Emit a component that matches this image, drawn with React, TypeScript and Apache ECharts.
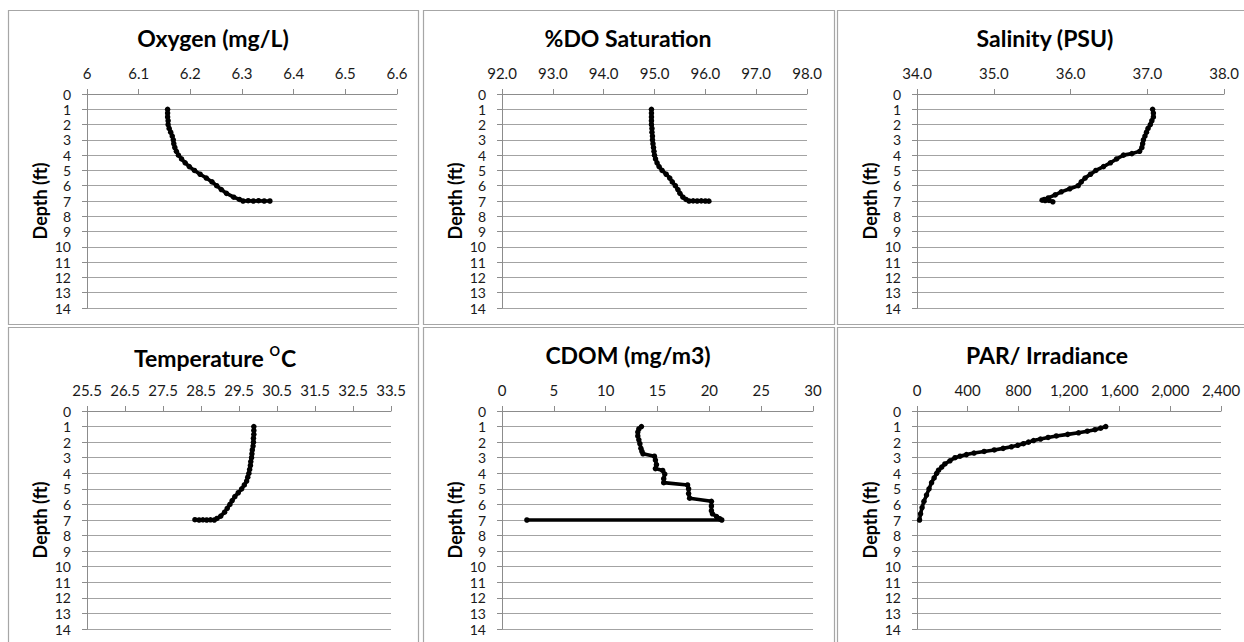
import React, { useEffect, useRef } from "react";
import * as echarts from "echarts";

// ---------- data ----------
const oxygenDepth = [1.0, 1.25, 1.5, 1.75, 2.0, 2.25, 2.5, 2.75, 3.0, 3.25, 3.5, 3.75, 4.0, 4.25, 4.5, 4.75, 5.0, 5.25, 5.5, 5.75, 6.0, 6.25, 6.5, 6.75, 6.9, 7.0, 6.98, 7.0, 6.98, 7.0, 7.0];
const oxygenValue = [6.156, 6.156, 6.156, 6.157, 6.157, 6.159, 6.162, 6.165, 6.167, 6.168, 6.17, 6.173, 6.177, 6.183, 6.19, 6.198, 6.208, 6.219, 6.231, 6.242, 6.251, 6.26, 6.27, 6.284, 6.295, 6.302, 6.312, 6.322, 6.332, 6.343, 6.354];

const doDepth = [1.0, 1.25, 1.5, 1.75, 2.0, 2.25, 2.5, 2.75, 3.0, 3.25, 3.5, 3.75, 4.0, 4.25, 4.5, 4.75, 5.0, 5.25, 5.5, 5.75, 6.0, 6.25, 6.5, 6.75, 6.9, 7.0, 6.99, 7.0, 6.99, 7.0, 7.01];
const doValue = [94.94, 94.94, 94.94, 94.94, 94.94, 94.95, 94.95, 94.96, 94.96, 94.97, 94.98, 94.99, 95.0, 95.02, 95.05, 95.09, 95.15, 95.23, 95.3, 95.35, 95.41, 95.46, 95.5, 95.56, 95.62, 95.68, 95.76, 95.84, 95.92, 96.0, 96.07];

const salinityDepth = [1.0, 1.25, 1.5, 1.75, 2.0, 2.25, 2.5, 2.75, 3.0, 3.25, 3.5, 3.75, 3.9, 4.0, 4.25, 4.5, 4.75, 5.0, 5.25, 5.5, 5.75, 6.0, 6.2, 6.4, 6.6, 6.8, 6.9, 6.95, 6.97, 6.96, 7.05];
const salinityValue = [37.07, 37.08, 37.08, 37.06, 37.04, 37.01, 36.99, 36.97, 36.95, 36.94, 36.93, 36.9, 36.8, 36.69, 36.6, 36.52, 36.43, 36.33, 36.26, 36.19, 36.14, 36.1, 35.99, 35.88, 35.8, 35.71, 35.66, 35.63, 35.67, 35.72, 35.77];

const temperatureDepth = [1.0, 1.25, 1.5, 1.75, 2.0, 2.25, 2.5, 2.75, 3.0, 3.25, 3.5, 3.75, 4.0, 4.25, 4.5, 4.75, 5.0, 5.25, 5.5, 5.75, 6.0, 6.25, 6.5, 6.75, 6.9, 7.0, 6.99, 7.0, 6.99, 7.0, 6.98];
const temperatureValue = [29.89, 29.89, 29.89, 29.88, 29.88, 29.87, 29.85, 29.84, 29.83, 29.81, 29.8, 29.78, 29.76, 29.73, 29.7, 29.64, 29.57, 29.48, 29.39, 29.32, 29.26, 29.19, 29.12, 29.02, 28.92, 28.85, 28.75, 28.65, 28.55, 28.45, 28.34];

const cdomDepth = [1.0, 1.15, 1.35, 1.6, 1.85, 2.1, 2.4, 2.6, 2.75, 2.9, 3.15, 3.45, 3.7, 3.82, 4.05, 4.35, 4.6, 4.75, 5.0, 5.3, 5.6, 5.8, 6.1, 6.4, 6.6, 6.78, 6.92, 7.0, 7.0];
const cdomValue = [13.45, 13.2, 13.1, 13.1, 13.2, 13.3, 13.4, 13.5, 13.6, 14.7, 14.8, 14.9, 14.8, 15.5, 15.7, 15.6, 15.6, 17.9, 18.0, 18.0, 18.1, 20.2, 20.2, 20.2, 20.3, 20.7, 21.0, 21.2, 2.4];

const parDepth = [1.0, 1.1, 1.2, 1.3, 1.4, 1.5, 1.6, 1.7, 1.8, 1.9, 2.0, 2.1, 2.2, 2.3, 2.4, 2.5, 2.6, 2.7, 2.8, 2.9, 3.0, 3.2, 3.4, 3.6, 3.8, 4.0, 4.3, 4.6, 5.0, 5.4, 5.8, 6.2, 6.6, 7.0];
const parValue = [1490, 1450, 1405, 1345, 1275, 1190, 1100, 1035, 975, 920, 880, 840, 795, 745, 680, 610, 530, 450, 390, 340, 300, 260, 220, 195, 170, 155, 135, 115, 95, 75, 55, 40, 28, 20];

const temperatureTicks = [25.5, 26.5, 27.5, 28.5, 29.5, 30.5, 31.5, 32.5, 33.5];

const panelTitles = ["Oxygen (mg/L)", "%DO Saturation", "Salinity (PSU)", "Temperature", "CDOM (mg/m3)", "PAR/ Irradiance"];

// ---------- layout / style ----------
const FONT = "Lato, 'Open Sans', sans-serif";
const GRID_COLOR = "#a3a3a3";
const AXIS_COLOR = "#8c8c8c";

const grids = [
  { left: 87, top: 94, width: 310, height: 214 },
  { left: 502, top: 94, width: 305, height: 214 },
  { left: 917, top: 94, width: 307, height: 214 },
  { left: 87, top: 411, width: 304, height: 218 },
  { left: 502, top: 411, width: 311, height: 218 },
  { left: 917, top: 411, width: 304, height: 218 },
];

const titlePos = [
  [213, 38], [628, 38], [1045, 38],
  [215, 355], [628, 355], [1047, 355],
];

const zip = (xs: number[], ys: number[]) => xs.map((x, i) => [x, ys[i]]);

export default function App() {
  const ref = useRef<HTMLDivElement>(null);

  useEffect(() => {
    if (!ref.current) return;
    const chart = echarts.init(ref.current, undefined, { renderer: "svg" });

    const fmt1 = (v: number) => v.toFixed(1);
    const fmtComma = (v: number) => v.toLocaleString("en-US");

    const xCfg: any[] = [
      { min: 6, max: 6.6, interval: 0.1 },
      { min: 92, max: 98, interval: 1, formatter: fmt1 },
      { min: 34, max: 38, interval: 1, formatter: fmt1 },
      { min: 25.5, max: 33.5, custom: temperatureTicks, formatter: fmt1 },
      { min: 0, max: 30, interval: 5 },
      { min: 0, max: 2400, interval: 400, formatter: fmtComma },
    ];

    const seriesData = [
      zip(oxygenValue, oxygenDepth),
      zip(doValue, doDepth),
      zip(salinityValue, salinityDepth),
      zip(temperatureValue, temperatureDepth),
      zip(cdomValue, cdomDepth),
      zip(parValue, parDepth),
    ];

    const xAxis = xCfg.map((c, i) => {
      const ax: any = {
        gridIndex: i,
        type: "value",
        position: "top",
        min: c.min,
        max: c.max,
        axisLine: { show: true, onZero: false, lineStyle: { color: AXIS_COLOR, width: 1 } },
        axisTick: { show: true, length: 5, lineStyle: { color: AXIS_COLOR } },
        axisLabel: {
          fontFamily: FONT,
          fontSize: 15,
          color: "#1a1a1a",
          margin: 14,
          formatter: c.formatter,
        },
        splitLine: { show: false },
      };
      if (c.interval !== undefined) ax.interval = c.interval;
      if (c.custom) {
        ax.axisLabel.customValues = c.custom;
        ax.axisTick.customValues = c.custom;
      }
      return ax;
    });

    const yAxis = grids.map((_, i) => ({
      gridIndex: i,
      type: "value",
      inverse: true,
      min: 0,
      max: 14,
      interval: 1,
      name: "Depth (ft)",
      nameLocation: "middle",
      nameGap: 38,
      nameRotate: 90,
      nameTextStyle: { fontFamily: FONT, fontWeight: "bold", fontSize: 18, color: "#000" },
      axisLine: { show: true, onZero: false, lineStyle: { color: AXIS_COLOR, width: 1 } },
      axisTick: { show: true, length: 5, lineStyle: { color: AXIS_COLOR } },
      axisLabel: { fontFamily: FONT, fontSize: 14, lineHeight: 14, color: "#1a1a1a", margin: 16 },
      splitLine: { show: true, lineStyle: { color: GRID_COLOR, width: 1 } },
    }));

    const series = seriesData.map((d, i) => ({
      type: "line",
      xAxisIndex: i,
      yAxisIndex: i,
      data: d,
      symbol: "circle",
      symbolSize: 5.5,
      showSymbol: true,
      silent: true,
      lineStyle: { color: "#000", width: 3.6 },
      itemStyle: { color: "#000" },
    }));

    const borderStyle = { fill: "none", stroke: "#a6a6a6", lineWidth: 1.2 };
    const borders = [
      { x: 8.5, y: 10.5, w: 410, h: 314 },
      { x: 423.5, y: 10.5, w: 411, h: 314 },
      { x: 837.5, y: 10.5, w: 420, h: 314 },
      { x: 8.5, y: 327.5, w: 410, h: 330 },
      { x: 423.5, y: 327.5, w: 411, h: 330 },
      { x: 837.5, y: 327.5, w: 420, h: 330 },
    ].map((b) => ({
      type: "rect",
      silent: true,
      shape: { x: b.x, y: b.y, width: b.w, height: b.h },
      style: borderStyle,
    }));

    const titles = panelTitles.map((t, i) => {
      const [x, y] = titlePos[i];
      if (i === 3) {
        return {
          type: "text",
          x,
          y,
          silent: true,
          style: {
            text: "{t|" + t + " }{s|O}{t|C}",
            textAlign: "center",
            textVerticalAlign: "middle",
            rich: {
              t: { fontFamily: FONT, fontWeight: "bold", fontSize: 23, lineHeight: 28, fill: "#000", verticalAlign: "bottom" },
              s: { fontFamily: FONT, fontWeight: "bold", fontSize: 13, lineHeight: 28, fill: "#000", verticalAlign: "top", padding: [3, 1, 0, 0] },
            },
          },
        };
      }
      return {
        type: "text",
        x,
        y,
        silent: true,
        style: {
          text: t,
          fontFamily: FONT,
          fontWeight: "bold",
          fontSize: 23,
          fill: "#000",
          textAlign: "center",
          textVerticalAlign: "middle",
        },
      };
    });

    chart.setOption({
      animation: false,
      backgroundColor: "#ffffff",
      grid: grids,
      xAxis,
      yAxis,
      series,
      graphic: [...borders, ...titles],
    });

    return () => chart.dispose();
  }, []);

  return (
    <div
      ref={ref}
      style={{ position: "absolute", left: 0, top: 0, width: 1244, height: 642 }}
    />
  );
}
